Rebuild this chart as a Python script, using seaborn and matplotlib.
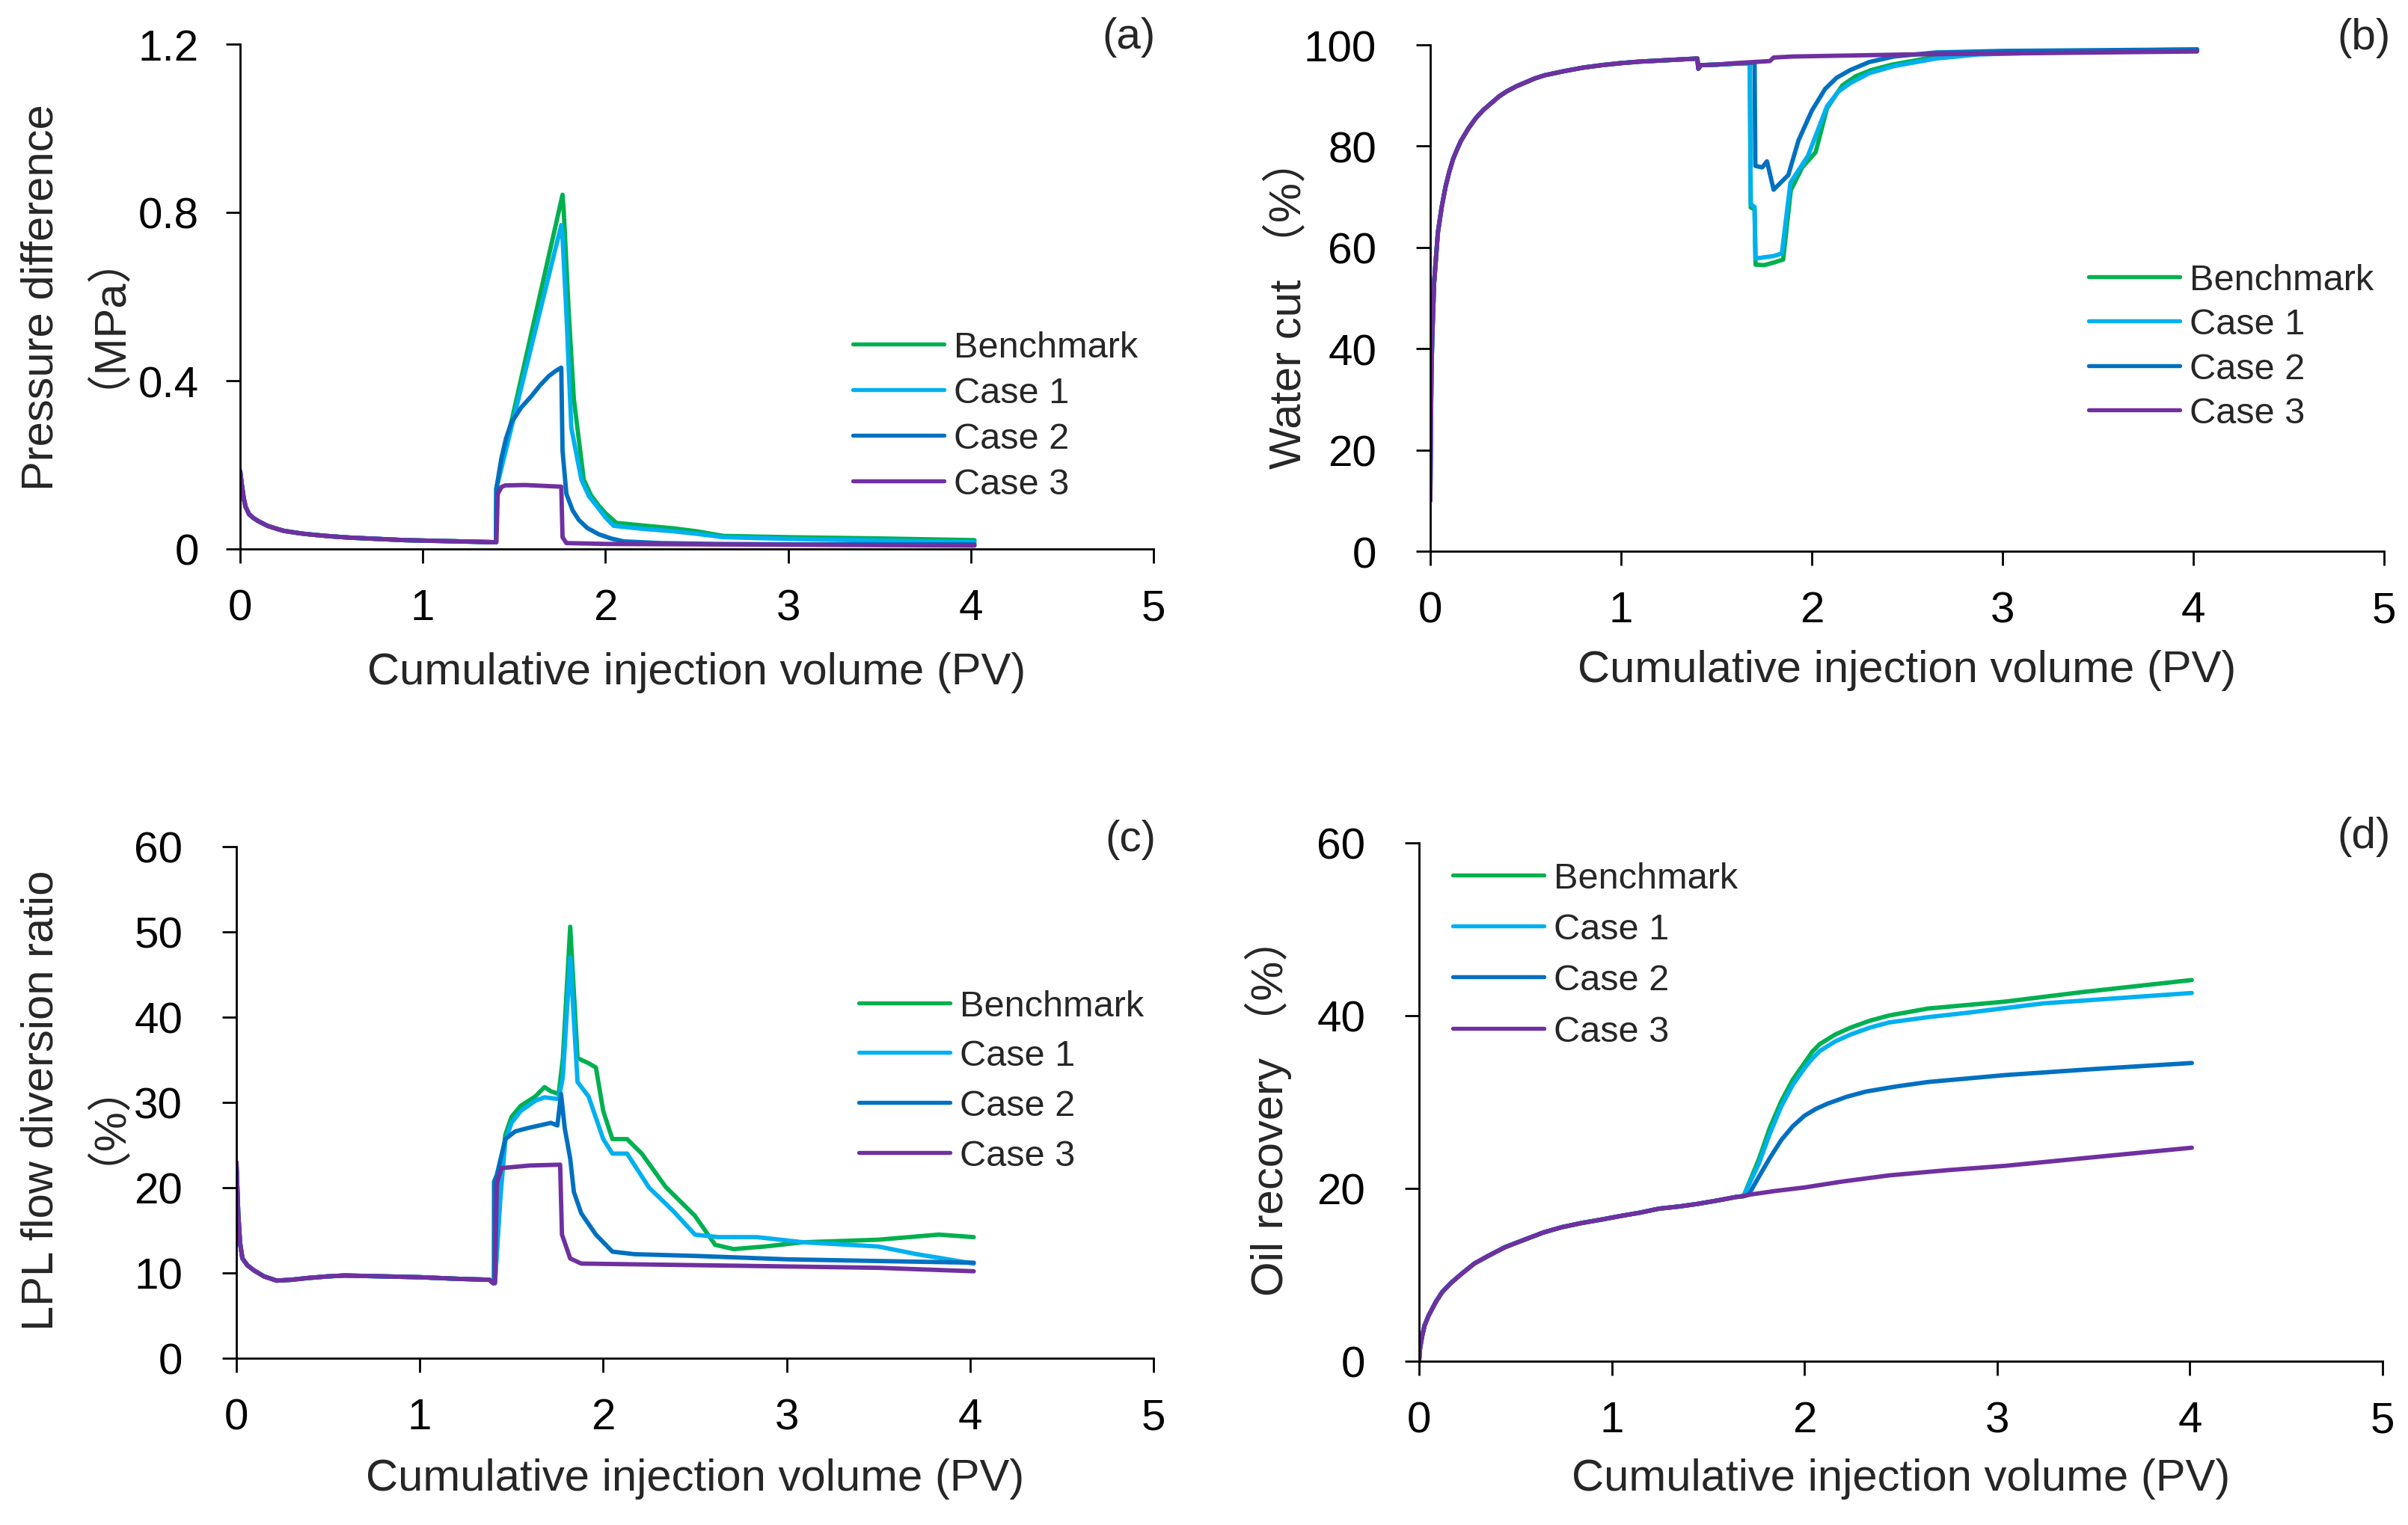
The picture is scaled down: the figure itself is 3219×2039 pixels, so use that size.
import matplotlib
matplotlib.use("Agg")
import matplotlib.pyplot as plt
import pandas as pd
import seaborn as sns

# ---------------- data ----------------
CASES = ["Benchmark", "Case 1", "Case 2", "Case 3"]
COLORS = ["#00B050", "#00B0F0", "#0070C0", "#7030A0"]
XTICKS = [0, 1, 2, 3, 4, 5]

# (a) pressure difference (MPa)
a_base_x = [0.0, 0.01, 0.02, 0.03, 0.05, 0.075, 0.10, 0.15, 0.20, 0.24, 0.30, 0.35, 0.42, 0.50,
            0.60, 0.70, 0.80, 0.90, 1.10, 1.30, 1.40]
a_base_y = [0.185, 0.150, 0.120, 0.100, 0.082, 0.073, 0.066, 0.055, 0.048, 0.043, 0.039, 0.036,
            0.033, 0.030, 0.027, 0.025, 0.023, 0.021, 0.019, 0.017, 0.016]
a_bench_x = [1.403, 1.765, 1.772, 1.799, 1.827, 1.881, 1.92, 1.963, 2.00, 2.059, 2.20, 2.373, 2.50,
             2.646, 3.0, 3.5, 4.02]
a_bench_y = [0.144, 0.842, 0.80, 0.561, 0.356, 0.165, 0.128, 0.103, 0.085, 0.062, 0.056, 0.049,
             0.042, 0.031, 0.028, 0.025, 0.021]
a_c1_x = [1.403, 1.758, 1.765, 1.786, 1.813, 1.868, 1.91, 1.963, 2.00, 2.045, 2.20, 2.373, 2.50,
          2.646, 3.0, 3.5, 4.02]
a_c1_y = [0.144, 0.770, 0.74, 0.561, 0.288, 0.165, 0.125, 0.096, 0.075, 0.055, 0.048, 0.042,
          0.036, 0.028, 0.024, 0.020, 0.016]
a_c2_x = [1.403, 1.43, 1.455, 1.485, 1.54, 1.594, 1.64, 1.69, 1.73, 1.758, 1.765, 1.786, 1.82,
          1.854, 1.90, 1.963, 2.03, 2.10, 2.3, 2.6, 3.0, 4.02]
a_c2_y = [0.144, 0.215, 0.262, 0.301, 0.337, 0.363, 0.388, 0.411, 0.424, 0.431, 0.233, 0.131,
          0.092, 0.069, 0.050, 0.035, 0.025, 0.018, 0.014, 0.012, 0.011, 0.011]
a_c3_x = [1.403, 1.41, 1.43, 1.45, 1.56, 1.758, 1.765, 1.786, 2.0, 3.0, 4.02]
a_c3_y = [0.016, 0.13, 0.147, 0.151, 0.152, 0.148, 0.028, 0.014, 0.012, 0.010, 0.008]

# (b) water cut (%)
b_base_x = [0.0, 0.003, 0.006, 0.01, 0.02, 0.04, 0.06, 0.08, 0.10, 0.12, 0.14, 0.16, 0.20, 0.24,
            0.28, 0.32, 0.36, 0.40, 0.45, 0.50, 0.55, 0.60, 0.70, 0.80, 0.90, 1.00, 1.10, 1.20,
            1.30, 1.40, 1.405, 1.415, 1.42]
b_base_y = [10, 25, 35, 42, 53, 63, 68, 72, 75, 77.5, 79.3, 81, 83.5, 85.6,
            87.2, 88.5, 89.8, 90.8, 91.8, 92.6, 93.4, 94.0, 94.8, 95.5, 96.0, 96.4, 96.7, 96.9,
            97.1, 97.3, 95.3, 95.8, 96.0]
b_bench_x = [1.50, 1.60, 1.675, 1.68, 1.70, 1.705, 1.75, 1.80, 1.85, 1.89, 1.95, 2.02, 2.08, 2.16,
             2.23, 2.31, 2.42, 2.54, 2.70, 3.0, 3.5, 4.02]
b_bench_y = [96.1, 96.3, 96.4, 67.9, 67.5, 56.6, 56.5, 57.0, 57.6, 71.3, 75.8, 78.8, 87.5, 92.0,
             93.8, 95.0, 96.1, 96.9, 98.1, 98.5, 98.8, 99.0]
b_c1_x = [1.50, 1.60, 1.675, 1.68, 1.70, 1.705, 1.80, 1.843, 1.888, 1.98, 2.08, 2.14, 2.20, 2.30,
          2.43, 2.65, 2.87, 3.5, 4.02]
b_c1_y = [96.1, 96.3, 96.4, 68.5, 68.0, 57.8, 58.3, 58.8, 72.8, 78.1, 87.9, 90.8, 92.4, 94.4,
          95.8, 97.3, 98.1, 98.8, 99.1]
b_c2_x = [1.50, 1.60, 1.70, 1.704, 1.74, 1.765, 1.80, 1.877, 1.93, 2.00, 2.07, 2.13, 2.20, 2.30,
          2.43, 2.65, 3.0, 4.02]
b_c2_y = [96.1, 96.3, 96.5, 76.1, 75.8, 77.0, 71.4, 74.3, 81.1, 87.0, 91.3, 93.5, 95.0, 96.6,
          97.7, 98.5, 98.8, 99.1]
b_c3_x = [1.50, 1.60, 1.78, 1.80, 1.90, 2.20, 2.50, 3.0, 3.5, 4.02]
b_c3_y = [96.1, 96.4, 96.8, 97.5, 97.7, 97.9, 98.1, 98.3, 98.5, 98.7]

# (c) LPL flow diversion ratio (%)
c_base_x = [0.0, 0.01, 0.02, 0.033, 0.06, 0.096, 0.15, 0.22, 0.30, 0.386, 0.50, 0.59, 0.80, 1.0,
            1.22, 1.38, 1.40]
c_base_y = [23.0, 17.0, 13.5, 11.7, 10.9, 10.3, 9.6, 9.1, 9.2, 9.4, 9.6, 9.7, 9.6, 9.5,
            9.3, 9.2, 8.8]
c_bench_x = [1.41, 1.44, 1.466, 1.50, 1.55, 1.63, 1.68, 1.715, 1.757, 1.78, 1.82, 1.86, 1.92, 1.96,
             2.00, 2.05, 2.13, 2.21, 2.34, 2.50, 2.61, 2.71, 2.88, 3.09, 3.5, 3.83, 4.02]
c_bench_y = [9.0, 20.0, 26.2, 28.3, 29.6, 30.7, 31.8, 31.3, 31.0, 35.2, 50.6, 35.2, 34.6, 34.1,
             29.0, 25.7, 25.7, 24.0, 20.1, 16.7, 13.3, 12.8, 13.1, 13.6, 13.9, 14.5, 14.2]
c_c1_x = [1.41, 1.44, 1.466, 1.50, 1.55, 1.63, 1.68, 1.757, 1.78, 1.82, 1.86, 1.92, 2.0, 2.05,
          2.13, 2.25, 2.38, 2.50, 2.63, 2.84, 3.09, 3.5, 3.71, 4.02]
c_c1_y = [9.0, 19.0, 25.5, 27.6, 29.0, 30.2, 30.6, 30.4, 33.0, 47.0, 32.4, 30.7, 25.7, 24.0,
          24.0, 20.0, 17.3, 14.5, 14.2, 14.2, 13.6, 13.1, 12.2, 11.1]
c_c2_x = [1.404, 1.405, 1.42, 1.466, 1.52, 1.59, 1.715, 1.75, 1.77, 1.79, 1.82, 1.84, 1.88, 1.96,
          2.05, 2.17, 2.5, 3.0, 3.5, 4.02]
c_c2_y = [9.0, 20.7, 21.5, 25.7, 26.6, 27.0, 27.6, 27.3, 31.0, 27.0, 23.4, 19.5, 17.0, 14.5,
          12.5, 12.2, 12.0, 11.6, 11.4, 11.2]
c_c3_x = [1.41, 1.42, 1.445, 1.60, 1.765, 1.775, 1.82, 1.88, 2.88, 3.5, 4.02]
c_c3_y = [8.8, 20.5, 22.3, 22.6, 22.7, 14.5, 11.7, 11.1, 10.8, 10.6, 10.2]

# (d) oil recovery (%)
d_base_x = [0.0, 0.005, 0.015, 0.028, 0.05, 0.088, 0.12, 0.168, 0.22, 0.287, 0.36, 0.447, 0.54,
            0.646, 0.74, 0.846, 0.95, 1.045, 1.15, 1.245, 1.35, 1.445, 1.55, 1.644, 1.684]
d_base_y = [0.0, 1.5, 2.8, 4.1, 5.3, 6.9, 8.0, 9.1, 10.1, 11.3, 12.2, 13.2, 14.0,
            14.9, 15.5, 16.0, 16.4, 16.8, 17.2, 17.65, 17.9, 18.2, 18.6, 19.0, 19.1]
d_bench_x = [1.764, 1.82, 1.88, 1.94, 2.0, 2.04, 2.08, 2.16, 2.24, 2.34, 2.44, 2.54, 2.64, 2.84,
             3.04, 3.44, 4.01]
d_bench_y = [23.4, 27.0, 30.1, 32.6, 34.5, 35.8, 36.7, 37.8, 38.6, 39.4, 40.0, 40.4, 40.8, 41.2,
             41.6, 42.7, 44.1]
d_c1_x = [1.764, 1.82, 1.88, 1.94, 2.0, 2.04, 2.08, 2.16, 2.24, 2.34, 2.44, 2.64, 2.84, 3.24, 4.01]
d_c1_y = [22.9, 26.3, 29.5, 32.0, 33.9, 35.0, 35.9, 37.0, 37.8, 38.6, 39.2, 39.8, 40.3, 41.4, 42.6]
d_c2_x = [1.71, 1.76, 1.82, 1.88, 1.94, 2.0, 2.06, 2.12, 2.22, 2.32, 2.48, 2.64, 2.84, 3.04,
          3.5, 4.01]
d_c2_y = [19.25, 21.2, 23.5, 25.6, 27.2, 28.4, 29.2, 29.8, 30.6, 31.2, 31.8, 32.3, 32.7, 33.1,
          33.8, 34.5]
d_c3_x = [1.71, 1.85, 2.0, 2.2, 2.44, 2.74, 3.04, 3.5, 4.01]
d_c3_y = [19.25, 19.7, 20.1, 20.8, 21.5, 22.1, 22.6, 23.6, 24.7]

# tick labels
a_yticks = [0, 0.4, 0.8, 1.2]
a_ylabels = ["0", "0.4", "0.8", "1.2"]
b_yticks = [0, 20, 40, 60, 80, 100]
c_yticks = [0, 10, 20, 30, 40, 50, 60]
d_yticks = [0, 20, 40, 60]

# ---------------- styling ----------------
sns.set_style("ticks")
plt.rcParams["font.family"] = ["Liberation Sans", "Noto Sans CJK SC", "DejaVu Sans"]

W, H = 3219, 2040
LW = 4.2
fig = plt.figure(figsize=(W / 100, H / 100), dpi=100)
fig.patch.set_facecolor("white")


def fx(x):
    return x / W


def fy(y):
    return 1 - y / H


def make_df(base_x, base_y, parts):
    frames = []
    for name, (xs, ys) in zip(CASES, parts):
        frames.append(pd.DataFrame({"PV": list(base_x) + list(xs),
                                    "val": list(base_y) + list(ys),
                                    "Case": name}))
    return pd.concat(frames, ignore_index=True)


def panel(rect_px, df, ylim, yticks, ylabels, ypad, leg_px, leg_spacing):
    l, t, r, b = rect_px
    ax = fig.add_axes([fx(l), fy(b), (r - l) / W, (b - t) / H])
    sns.lineplot(data=df, x="PV", y="val", hue="Case", hue_order=CASES,
                 palette=dict(zip(CASES, COLORS)), estimator=None, sort=False,
                 errorbar=None, linewidth=LW, ax=ax)
    for ln in ax.get_lines():
        ln.set_solid_joinstyle("round")
    ax.set_xlim(0, 5)
    ax.set_ylim(*ylim)
    ax.set_xticks(XTICKS)
    ax.set_xticklabels([str(v) for v in XTICKS])
    ax.set_yticks(yticks)
    ax.set_yticklabels(ylabels)
    ax.set_xlabel("")
    ax.set_ylabel("")
    for s in ["top", "right"]:
        ax.spines[s].set_visible(False)
    for s in ["left", "bottom"]:
        ax.spines[s].set_linewidth(2.0)
        ax.spines[s].set_color("black")
    ax.tick_params(axis="both", direction="out", length=13.7, width=2.0,
                   colors="black", labelsize=42)
    ax.tick_params(axis="x", pad=24)
    ax.tick_params(axis="y", pad=ypad)
    old = ax.get_legend()
    handles = old.legend_handles
    labels = [tx.get_text() for tx in old.get_texts()]
    old.remove()
    for h in handles:
        h.set_linewidth(3.9)
    lx, ly = leg_px
    ax.legend(handles, labels, loc="upper left",
              bbox_to_anchor=(fx(lx), fy(ly - 18.4)), bbox_transform=fig.transFigure,
              frameon=False, borderpad=0, borderaxespad=0, handlelength=2.5,
              handletextpad=0.28, labelspacing=leg_spacing, fontsize=35)
    return ax


df_a = make_df(a_base_x, a_base_y, [(a_bench_x, a_bench_y), (a_c1_x, a_c1_y),
                                    (a_c2_x, a_c2_y), (a_c3_x, a_c3_y)])
df_b = make_df(b_base_x, b_base_y, [(b_bench_x, b_bench_y), (b_c1_x, b_c1_y),
                                    (b_c2_x, b_c2_y), (b_c3_x, b_c3_y)])
df_c = make_df(c_base_x, c_base_y, [(c_bench_x, c_bench_y), (c_c1_x, c_c1_y),
                                    (c_c2_x, c_c2_y), (c_c3_x, c_c3_y)])
df_d = make_df(d_base_x, d_base_y, [(d_bench_x, d_bench_y), (d_c1_x, d_c1_y),
                                    (d_c2_x, d_c2_y), (d_c3_x, d_c3_y)])

panel((321, 60, 1542, 735), df_a, (0, 1.2), a_yticks, a_ylabels, 26, (1140, 461), 0.33)
panel((1912, 61, 3187, 738), df_b, (0, 100), b_yticks, [str(v) for v in b_yticks], 38,
      (2792, 371), 0.30)
panel((316, 1133, 1542, 1817), df_c, (0, 60), c_yticks, [str(v) for v in c_yticks], 38,
      (1148, 1342), 0.45)
panel((1897, 1127.6, 3185, 1821), df_d, (0, 60), d_yticks, [str(v) for v in d_yticks], 38,
      (1942, 1171), 0.48)

LBL = 43
XL = "Cumulative injection volume (PV)"
for cx, cy in [(931.5, 900), (2549.5, 897), (929, 1978), (2541, 1978)]:
    fig.text(fx(cx), fy(cy), XL, ha="center", va="center", fontsize=LBL)

# y labels (two-line labels are single multi-line texts)
fig.text(fx(83), fy(398), "Pressure difference\n（MPa）", rotation=90, ha="center", va="center",
         multialignment="center", linespacing=1.0, fontsize=LBL)
fig.text(fx(1722), fy(406), "Water cut （%）", rotation=90, ha="center", va="center", fontsize=LBL)
fig.text(fx(83), fy(1471), "LPL flow diversion ratio\n（%）", rotation=90, ha="center", va="center",
         multialignment="center", linespacing=1.0, fontsize=LBL)
fig.text(fx(1695), fy(1479), "Oil recovery （%）", rotation=90, ha="center", va="center", fontsize=LBL)

# panel letters
for txt, rx, cy in [("(a)", 1545, 50), ("(b)", 3196, 51), ("(c)", 1545, 1123), ("(d)", 3196, 1119)]:
    fig.text(fx(rx), fy(cy), txt, ha="right", va="center", fontsize=42)

fig.savefig("out.png", dpi=100, facecolor="white")
